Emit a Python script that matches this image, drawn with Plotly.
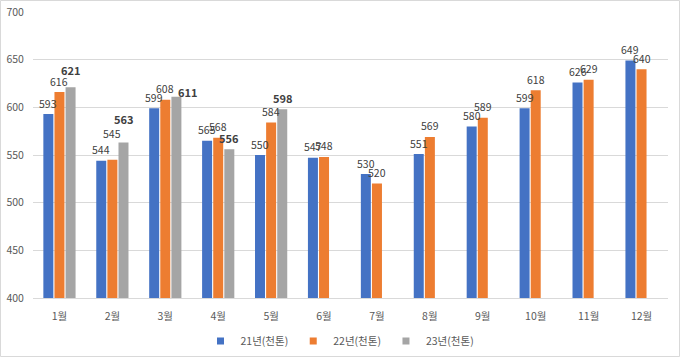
import plotly.graph_objects as go

months = ["1월", "2월", "3월", "4월", "5월", "6월", "7월", "8월", "9월", "10월", "11월", "12월"]
s21 = [593, 544, 599, 565, 550, 547, 530, 551, 580, 599, 626, 649]
s22 = [616, 545, 608, 568, 584, 548, 520, 569, 589, 618, 629, 640]
s23 = [621, 563, 611, 556, 598, None, None, None, None, None, None, None]
names = ["21년(천톤)", "22년(천톤)", "23년(천톤)"]
colors = ["#4472C4", "#ED7D31", "#A5A5A5"]

# label nudges (px) for data labels that were moved by hand in the original
label_dy = {(1, 1): 15, (2, 0): 6, (2, 1): 13, (2, 2): -6}
label_dx = {(2, 2): 11}

FONT = "Noto Sans CJK KR"
W, H = 680, 357
l, r, t, b = 33, 12, 12, 59
pw, ph = W - l - r, H - t - b
bargap, bargroupgap = 0.37, 0.1
slot = pw / len(months) * (1 - bargap) / 3

fig = go.Figure()
annotations = []
for k, (name, vals, col, bold) in enumerate(zip(names, [s21, s22, s23], colors, [False, False, True])):
    fig.add_trace(go.Bar(x=months, y=vals, name=name, showlegend=False,
                         marker=dict(color=col, line=dict(width=0)), hoverinfo="x+y+name"))
    fig.add_trace(go.Scatter(x=[None], y=[None], name=name, mode="markers",
                             marker=dict(symbol="square", size=7, color=col)))
    for i, (m, v) in enumerate(zip(months, vals)):
        if v is None:
            continue
        annotations.append(dict(
            x=m, y=v, xref="x", yref="y", showarrow=False,
            text=("<b>%d</b>" % v) if bold else "%d" % v,
            xshift=(k - 1) * slot + label_dx.get((k, i), 0),
            yshift=11 + label_dy.get((k, i), 0),
            font=dict(family=FONT, size=11 if bold else 10.5, color="#404040"),
        ))

fig.update_layout(
    width=W, height=H, barmode="group", bargap=bargap, bargroupgap=bargroupgap,
    margin=dict(l=l, r=r, t=t, b=b, autoexpand=False),
    paper_bgcolor="white", plot_bgcolor="white",
    font=dict(family=FONT, size=10.5, color="#595959"),
    showlegend=True,
    legend=dict(orientation="h", x=0.5, xanchor="center", xref="container",
                y=1 - 341 / H, yanchor="middle", yref="container",
                font=dict(family=FONT, size=10.5, color="#595959"), itemwidth=30,
                traceorder="normal"),
    xaxis=dict(showline=True, linecolor="#d9d9d9", linewidth=1, ticks="outside",
               ticklen=8, tickcolor="rgba(0,0,0,0)", tickfont=dict(size=10.5, color="#595959"),
               automargin=False),
    yaxis=dict(range=[400, 700], dtick=50, showgrid=True, gridcolor="#d9d9d9", gridwidth=1,
               zeroline=False, tickfont=dict(size=10.5, color="#595959"), ticks="outside",
               ticklen=6, tickcolor="rgba(0,0,0,0)", automargin=False),
    annotations=annotations,
    shapes=[dict(type="rect", xref="paper", yref="paper",
                 x0=(0.5 - l) / pw, x1=(W - 0.5 - l) / pw,
                 y0=-(b - 0.5) / ph, y1=(ph + t - 0.5) / ph,
                 line=dict(color="#d9d9d9", width=1), fillcolor="rgba(0,0,0,0)")],
)
fig.write_html("out.html", config={"displayModeBar": False},
               post_script="document.body.style.margin='0';")
